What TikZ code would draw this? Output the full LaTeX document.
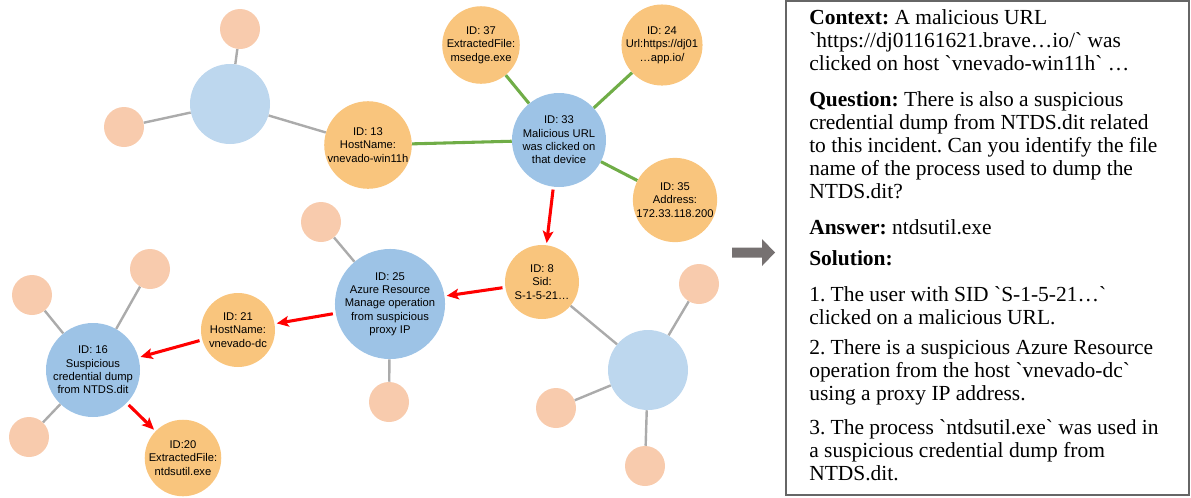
\documentclass[tikz,border=0pt]{standalone}
\usepackage{fontspec}
\setmainfont{Liberation Sans}
\newfontfamily\pf{Liberation Serif}[Ligatures=TeXOff]
\usetikzlibrary{arrows.meta}
\definecolor{peach}{HTML}{F8CBAD}
\definecolor{orangeN}{HTML}{F9C57D}
\definecolor{blueN}{HTML}{9DC3E6}
\definecolor{lblue}{HTML}{BDD7EE}
\definecolor{greenE}{HTML}{70AD47}
\definecolor{grayE}{HTML}{ABABAB}
\definecolor{arrowG}{HTML}{767171}
\definecolor{boxG}{HTML}{666666}
\begin{document}
\begin{tikzpicture}[x=0.75pt,y=-0.75pt,
  base/.style={circle,inner sep=0pt,align=center,font=\fontsize{8.4}{10}\selectfont},
  leaf/.style={base,fill=peach,minimum size=30pt},
  hub/.style={base,fill=lblue,minimum size=60pt},
  ent/.style={base,fill=orangeN,minimum size=55.5pt},
  alertn/.style={base,fill=blueN,minimum size=70.5pt},
  gedge/.style={draw=grayE,line width=1.8pt},
  iocedge/.style={draw=greenE,line width=2.3pt},
  redarr/.style={draw=red,line width=2.3pt,-{Stealth[length=9pt,width=8pt,inset=2pt]},shorten <=2pt,shorten >=1.5pt},
  ptext/.style={anchor=base west,align=left,font=\pf\fontsize{16.1}{17.25}\selectfont\frenchspacing,inner sep=0pt}
]
\useasboundingbox (0,0) rectangle (1191,497);
% graph nodes
\node[hub] (h1) at (230,104) {};
\node[leaf] (l1) at (240,29) {};
\node[leaf] (l2) at (124,127) {};
\node[ent] (n13) at (368,145) {ID: 13\\HostName:\\vnevado-win11h};
\node[ent] (n37) at (481,45) {ID: 37\\ExtractedFile:\\msedge.exe};
\node[ent] (n24) at (662,45) {ID: 24\\Url:https://dj01\\…app.io/};
\node[alertn] (n33) at (559,140) {ID: 33\\Malicious URL\\was clicked on\\that device};
\node[ent] (n35) at (675,200) {ID: 35\\Address:\\172.33.118.200};
\node[ent] (n8) at (542,282) {ID: 8\\Sid:\\S-1-5-21…};
\node[alertn] (n25) at (390,304) {ID: 25\\Azure Resource\\Manage operation\\from suspicious\\proxy IP};
\node[leaf] (l3) at (321,222) {};
\node[leaf] (l4) at (389,402) {};
\node[hub] (h2) at (648,370) {};
\node[leaf] (l5) at (699,284) {};
\node[leaf] (l6) at (556,408) {};
\node[leaf] (l7) at (645,466) {};
\node[ent] (n21) at (238,330) {ID: 21\\HostName:\\vnevado-dc};
\node[alertn] (n16) at (93,370) {ID: 16\\Suspicious\\credential dump\\from NTDS.dit};
\node[ent] (n20) at (183,458) {ID:20\\ExtractedFile:\\ntdsutil.exe};
\node[leaf] (l8) at (150,269) {};
\node[leaf] (l9) at (32,295) {};
\node[leaf] (l10) at (29,437) {};
% gray edges
\draw[gedge] (h1) -- (l1);
\draw[gedge] (h1) -- (l2);
\draw[gedge] (h1) -- (n13);
\draw[gedge] (n25) -- (l3);
\draw[gedge] (n25) -- (l4);
\draw[gedge] (n8) -- (h2);
\draw[gedge] (h2) -- (l5);
\draw[gedge] (h2) -- (l6);
\draw[gedge] (h2) -- (l7);
\draw[gedge] (n16) -- (l8);
\draw[gedge] (n16) -- (l9);
\draw[gedge] (n16) -- (l10);
% green edges
\draw[iocedge] (n33) -- (n13);
\draw[iocedge] (n33) -- (n37);
\draw[iocedge] (n33) -- (n24);
\draw[iocedge] (n33) -- (n35);
% red path
\draw[redarr] (n33) -- (n8);
\draw[redarr] (n8) -- (n25);
\draw[redarr] (n25) -- (n21);
\draw[redarr] (n21) -- (n16);
\draw[redarr] (n16) -- (n20);
% big arrow
\fill[arrowG] (732,247.5) -- (762,247.5) -- (762,239) -- (775,252.5) -- (762,266) -- (762,257.5) -- (732,257.5) -- cycle;
% panel
\draw[boxG,line width=2pt] (786,1) rectangle (1189,495);
\node[ptext] (ctx) at (809,70) {\textbf{Context:} A malicious URL\\`https://dj01161621.brave…io/` was\\clicked on host `vnevado-win11h` …};
\node[ptext] (q) at (809,198) {\textbf{Question:} There is also a suspicious\\credential dump from NTDS.dit related\\to this incident. Can you identify the file\\name of the process used to dump the\\NTDS.dit?};
\node[ptext] (a) at (809,234) {\textbf{Answer:} ntdsutil.exe};
\node[ptext] (s) at (809,265) {\textbf{Solution:}};
\node[ptext] (s1) at (809,324) {1. The user with SID `S-1-5-21…`\\clicked on a malicious URL.};
\node[ptext] (s2) at (809,400) {2. There is a suspicious Azure Resource\\operation from the host `vnevado-dc`\\using a proxy IP address.};
\node[ptext] (s3) at (809,480) {3. The process `ntdsutil.exe` was used in\\a suspicious credential dump from\\NTDS.dit.};
\end{tikzpicture}
\end{document}
